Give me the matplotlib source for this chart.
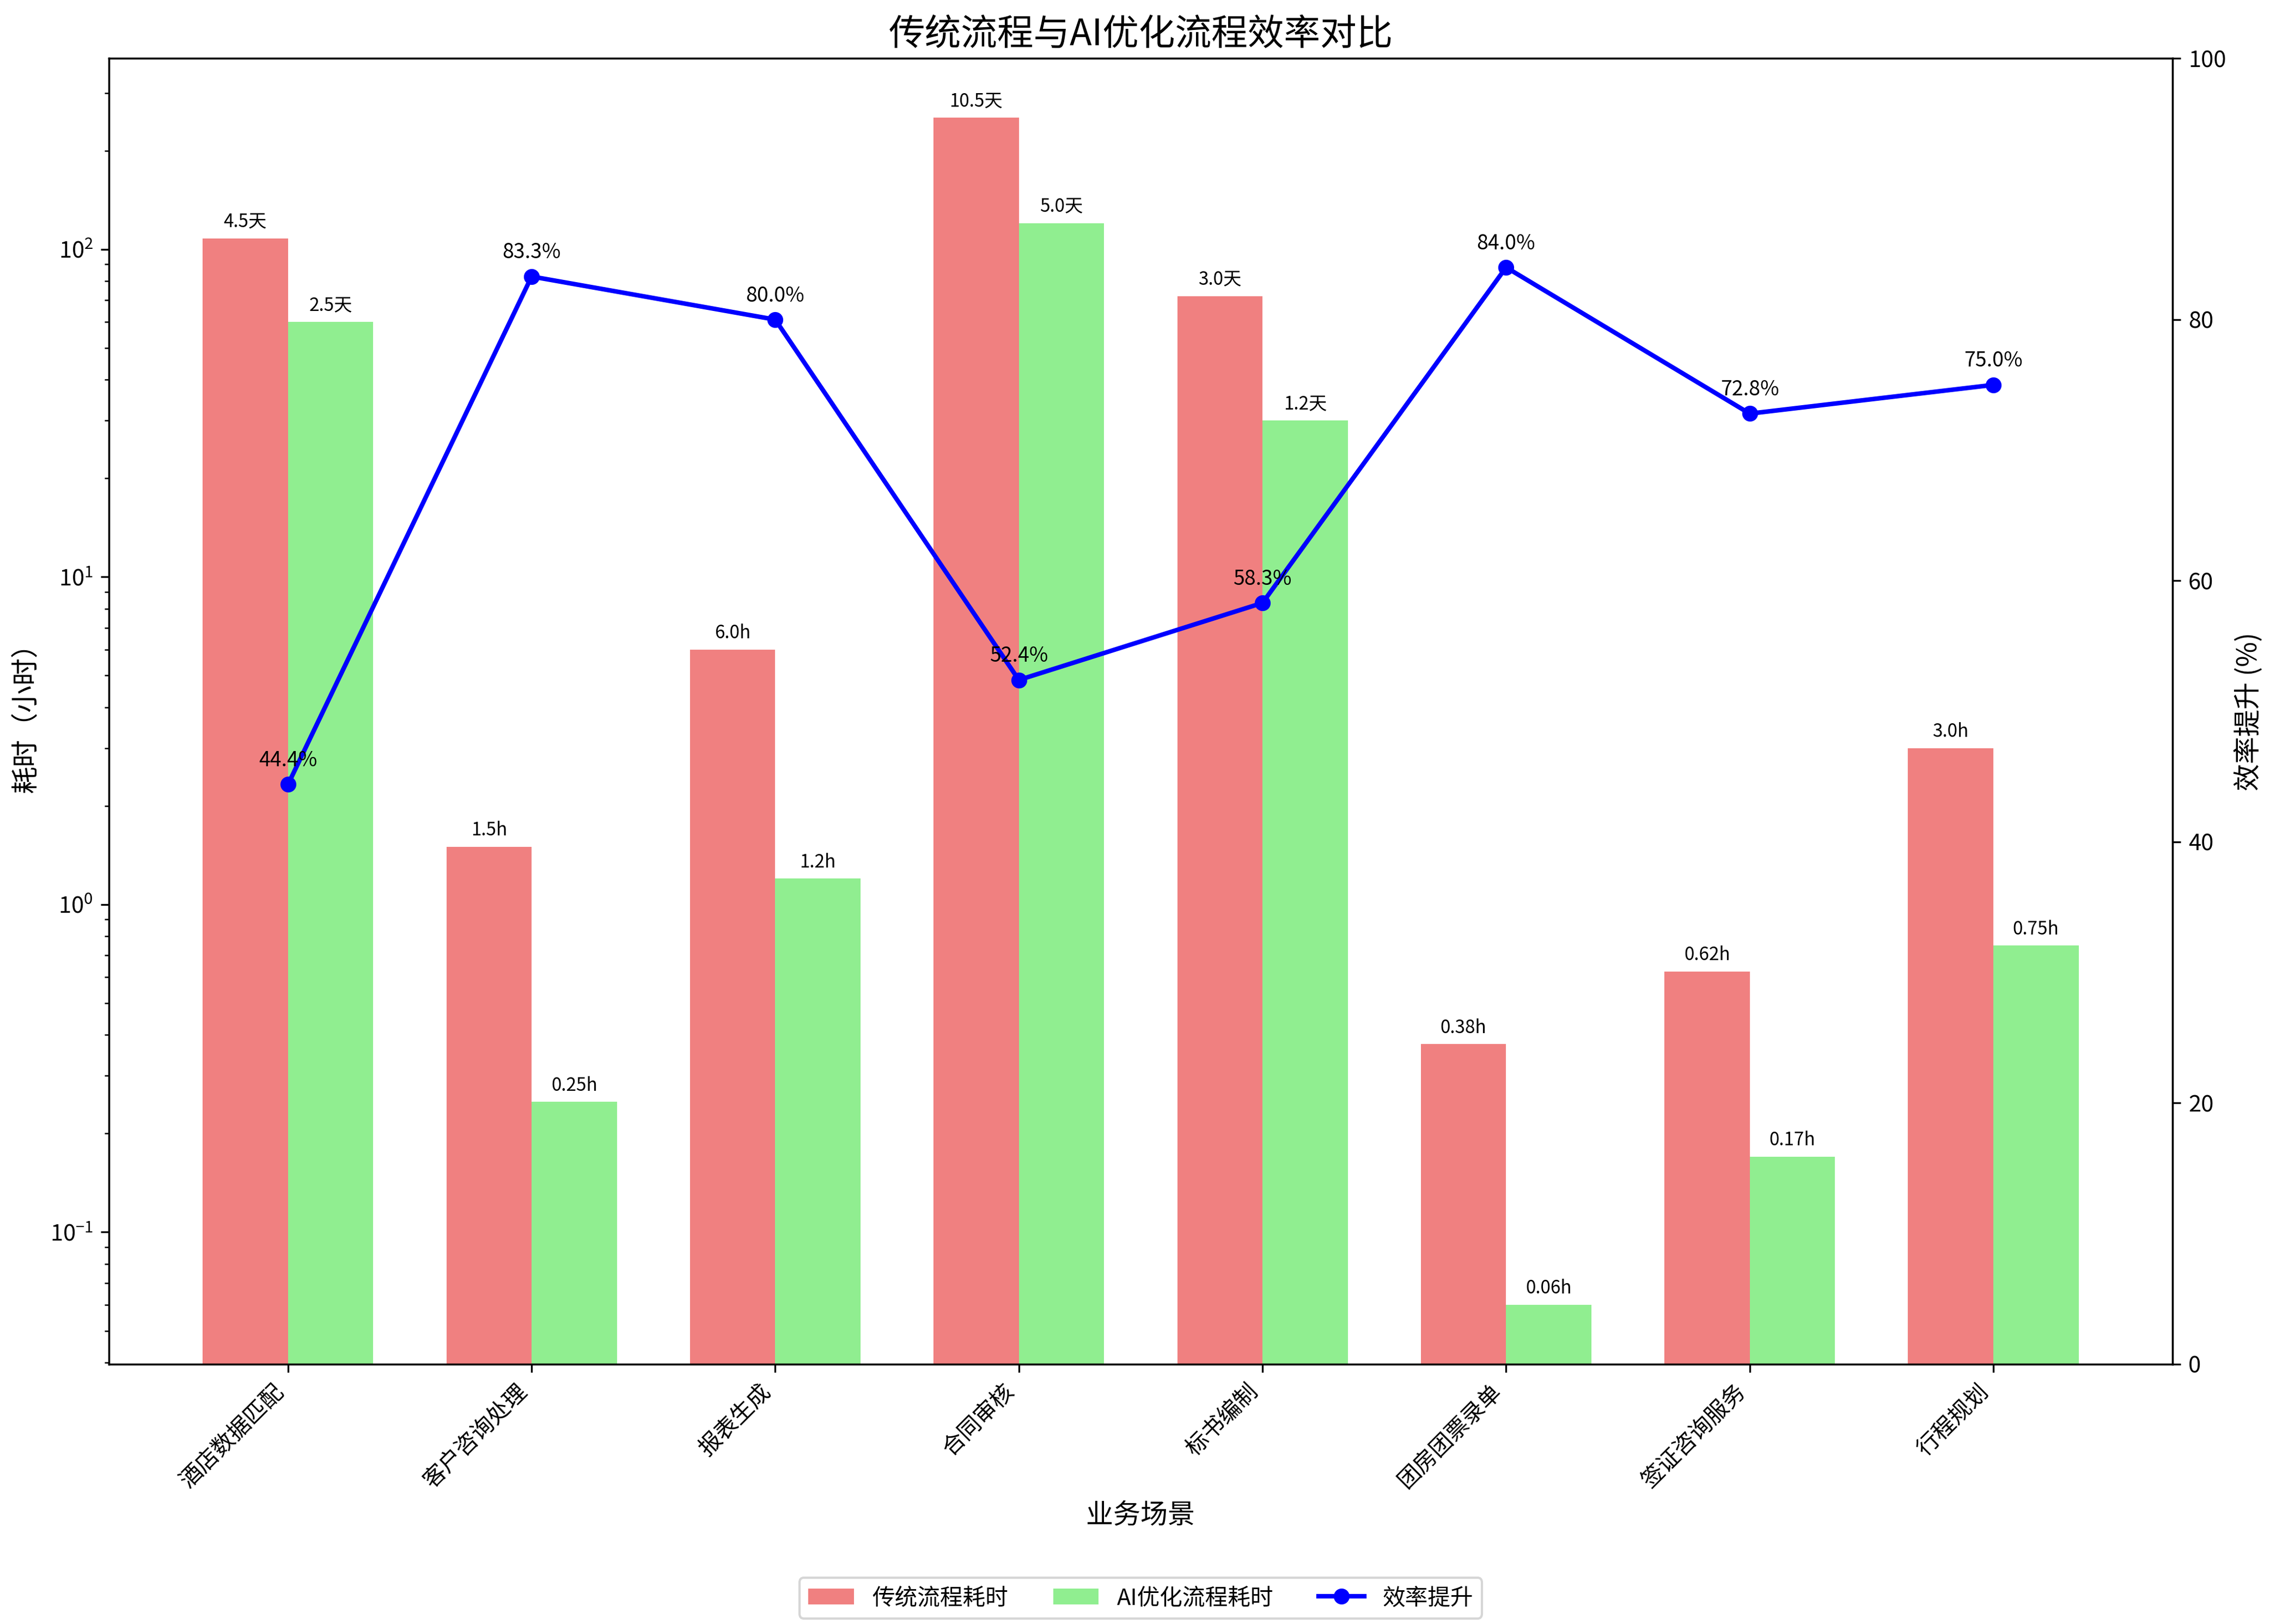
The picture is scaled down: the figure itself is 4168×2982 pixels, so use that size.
import numpy as np
import matplotlib
matplotlib.use("Agg")
import matplotlib.pyplot as plt

plt.rcParams['font.sans-serif'] = ['Noto Sans CJK SC']
plt.rcParams['font.family'] = 'sans-serif'

# data (hours)
scenarios = ['酒店数据匹配', '客户咨询处理', '报表生成', '合同审核', '标书编制', '团房团票录单', '签证咨询服务', '行程规划']
traditional_hours = [108, 1.5, 6.0, 252, 72, 0.375, 0.625, 3.0]
ai_hours = [60, 0.25, 1.2, 120, 30, 0.06, 0.17, 0.75]
efficiency = [44.4, 83.3, 80.0, 52.4, 58.3, 84.0, 72.8, 75.0]


def fmt_time(v):
    if v >= 24:
        return f"{v / 24:.1f}天"
    if v < 1:
        return f"{v:.2f}h"
    return f"{v:.1f}h"


x = np.arange(len(scenarios))
width = 0.35

fig, ax1 = plt.subplots(figsize=(4168 / 300, 2982 / 300), dpi=300)
fig.subplots_adjust(left=0.048, right=0.957, top=0.964, bottom=0.16)

bars1 = ax1.bar(x - width / 2, traditional_hours, width, color='lightcoral', label='传统流程耗时')
bars2 = ax1.bar(x + width / 2, ai_hours, width, color='lightgreen', label='AI优化流程耗时')
ax1.set_yscale('log')
ax1.set_xlabel('业务场景', fontsize=12)
ax1.set_ylabel('耗时（小时）', fontsize=12)
ax1.set_xticks(x)
ax1.set_xticklabels(scenarios, rotation=45, ha='right')

for bars, vals in [(bars1, traditional_hours), (bars2, ai_hours)]:
    for b, v in zip(bars, vals):
        ax1.annotate(fmt_time(v), (b.get_x() + b.get_width() / 2, b.get_height()),
                     xytext=(0, 3), textcoords='offset points', ha='center', va='bottom', fontsize=8)

ax2 = ax1.twinx()
line, = ax2.plot(x, efficiency, color='blue', marker='o', linewidth=2, label='效率提升')
ax2.set_ylim(0, 100)
ax2.set_ylabel('效率提升 (%)', fontsize=12)
for xi, e in zip(x, efficiency):
    ax2.annotate(f"{e}%", (xi, e), xytext=(0, 8), textcoords='offset points', ha='center', fontsize=9)

ax1.set_title('传统流程与AI优化流程效率对比', fontsize=16)
ax1.legend([bars1, bars2, line], ['传统流程耗时', 'AI优化流程耗时', '效率提升'],
           loc='upper center', bbox_to_anchor=(0.5, -0.155), ncol=3)

plt.savefig('out.png', dpi=300)
